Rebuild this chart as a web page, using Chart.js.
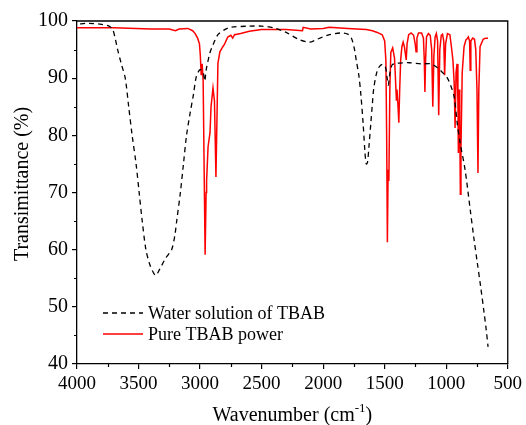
<!DOCTYPE html>
<html>
<head>
<meta charset="utf-8">
<script src="https://cdn.jsdelivr.net/npm/chart.js@4.4.1/dist/chart.umd.min.js"></script>
<style>
html,body{margin:0;padding:0;background:#fff;}
canvas{display:block;}
</style>
</head>
<body>
<canvas id="c" width="526" height="425"></canvas>
<script>
// ---- Data ----
const seriesLabels = ["Water solution of TBAB", "Pure TBAB power"];

const waterWn = [3975,3900,3800,3740,3710,3690,3670,3640,3608,3580,3552,3520,3495,3470,3440,3410,3380,3360,3330,3280,3231,3205,3190,3160,3135,3110,3080,3055,3030,3000,2975,2962,2950,2920,2895,2855,2800,2750,2600,2500,2400,2300,2200,2110,2050,1950,1860,1800,1770,1745,1730,1710,1693,1675,1660,1650,1640,1628,1613,1600,1590,1570,1550,1520,1495,1480,1470,1460,1440,1400,1300,1200,1125,1070,1030,990,960,935,910,887,847,805,775,748,720,693,675,660];
const waterT  = [99.5,99.6,99.4,99.1,98.5,97,95,92.5,90,85,80,75,70,65,60,57.5,56,55.5,56.5,58.5,60,62.5,65,70,75,80,84,87,90.3,91.5,91,89.5,91.5,94.4,95.8,97.6,98.5,98.9,99.1,99.1,98.8,98,96.8,96.3,96.8,97.6,97.9,97.7,97,95,93,90.5,87,82,77,75,75.2,78,82,85.5,88,90.5,91.8,92.4,92,90,88.8,90.5,92.3,92.6,92.7,92.5,92.5,91.8,91,90,88.5,86.7,82,78.7,74,67,62,57.8,53.5,49.1,46,43];

const pureWn = [4000,3700,3400,3250,3200,3170,3100,3060,3040,3020,3005,2998,2991,2983,2975,2959,2951,2947,2935,2919,2911,2895,2883,2871,2855,2839,2815,2800,2775,2750,2735,2720,2670,2600,2500,2300,2168,2162,2100,2000,1950,1800,1650,1600,1560,1520,1500,1490,1484,1478,1472,1466,1458,1450,1435,1420,1413,1405,1400,1393,1385,1378,1370,1360,1350,1340,1325,1318,1305,1285,1265,1252,1245,1238,1225,1200,1185,1178,1173,1168,1160,1145,1130,1118,1109,1100,1090,1080,1070,1061,1052,1040,1030,1020,1013,1005,990,970,955,945,935,928,920,912,905,901,896,890,885,880,870,855,840,830,820,810,805,800,785,770,760,750,742,735,725,700,680,660];
const pureT  = [98.8,98.8,98.6,98.6,98.3,98.6,98.7,98.3,97.8,97,96,94,90.5,92.5,89.5,59.1,70,72,78,80.5,85,88.3,86,72.7,92.6,94.6,95.5,96,97.2,97.5,97,97.6,97.8,98.2,98.5,98.5,98.3,98.9,98.6,98.7,98.9,98.7,98.5,98.3,98,97.6,96.5,93,80,61.3,74,72,88,94.5,95.3,93.5,90.2,86.2,88,85.6,82.2,88,93.2,95.5,96.3,95.5,93.2,96,97.6,97.9,97.5,96,94.6,97,97.9,97.9,97,93,87.6,93,97.2,97.8,97.5,95,85,94,97.2,97.8,96.5,83.5,95,97.5,97.7,96.5,90.5,96,97.8,97.6,95,93,89,81.3,91,92.5,86,76.9,88,82,69.7,78,91,95.5,96.7,96.9,97.2,96.5,91.4,96.5,97,96.8,95,88,73.4,88,95.5,96.8,97,97];

const xTickMin = 500, xTickMax = 4000, xMajor = 500, xMinor = 250;
const yTickMin = 40, yTickMax = 100, yMajor = 10, yMinor = 5;
const xTitle = "Wavenumber (cm", xTitleSup = "-1", xTitleEnd = ")";
const yTitle = "Transimittance (%)";

const toPts = (xs, ys) => xs.map((x, i) => ({x: x, y: ys[i]}));
const FONT = "'Liberation Serif', 'Times New Roman', serif";

const framePlugin = {
  id: 'frame',
  afterDraw(chart) {
    const ctx = chart.ctx, a = chart.chartArea;
    ctx.save();
    ctx.strokeStyle = '#000';
    ctx.lineWidth = 1.3;
    ctx.beginPath();
    ctx.moveTo(a.left, a.top); ctx.lineTo(a.right, a.top); ctx.lineTo(a.right, a.bottom);
    ctx.stroke();
    // short minor ticks
    ctx.lineWidth = 1.2;
    ctx.beginPath();
    const sx = chart.scales.x, sy = chart.scales.y;
    sx.ticks.forEach(t => {
      if (t.value % xMajor !== 0) {
        const px = Math.round(sx.getPixelForValue(t.value)) + 0.5;
        ctx.moveTo(px, a.bottom); ctx.lineTo(px, a.bottom + 3);
      }
    });
    sy.ticks.forEach(t => {
      if (t.value % yMajor !== 0) {
        const py = Math.round(sy.getPixelForValue(t.value)) + 0.5;
        ctx.moveTo(a.left, py); ctx.lineTo(a.left - 3, py);
      }
    });
    ctx.stroke();
    // legend inside plot
    const ds = chart.data.datasets;
    const lx0 = 103, lx1 = 143, tx = 148;
    const rows = [313, 334];
    ctx.font = "18px " + FONT;
    ctx.textBaseline = 'middle';
    ctx.fillStyle = '#000';
    ds.forEach((d, i) => {
      ctx.beginPath();
      ctx.strokeStyle = d.borderColor;
      ctx.lineWidth = d.borderWidth;
      ctx.setLineDash(d.borderDash || []);
      ctx.moveTo(lx0, rows[i]); ctx.lineTo(lx1, rows[i]);
      ctx.stroke();
      ctx.setLineDash([]);
      ctx.fillText(d.label, tx, rows[i] + 1);
    });
    // axis titles
    ctx.textBaseline = 'alphabetic';
    const big = "20px " + FONT, small = "13px " + FONT;
    ctx.font = big;
    const w1 = ctx.measureText(xTitle).width;
    ctx.font = small;
    const w2 = ctx.measureText(xTitleSup).width;
    ctx.font = big;
    const w3 = ctx.measureText(xTitleEnd).width;
    let x = (a.left + a.right) / 2 - (w1 + w2 + w3) / 2;
    const by = 421;
    ctx.fillText(xTitle, x, by); x += w1;
    ctx.font = small;
    ctx.fillText(xTitleSup, x, by - 9); x += w2;
    ctx.font = big;
    ctx.fillText(xTitleEnd, x, by);
    ctx.save();
    ctx.translate(28, 184);
    ctx.rotate(-Math.PI / 2);
    ctx.textAlign = 'center';
    ctx.fillText(yTitle, 0, 0);
    ctx.restore();
    ctx.restore();
  }
};

const majorOnlyColor = (major) => (ctx) => (ctx.tick && ctx.tick.value % major === 0 ? '#000' : 'rgba(0,0,0,0)');

new Chart(document.getElementById('c'), {
  type: 'line',
  data: {
    datasets: [
      { label: seriesLabels[0], data: toPts(waterWn, waterT), borderColor: '#000', borderWidth: 1.3, borderDash: [5, 4], pointRadius: 0, fill: false, tension: 0.3 },
      { label: seriesLabels[1], data: toPts(pureWn, pureT), borderColor: '#ff0000', borderWidth: 1.5, pointRadius: 0, fill: false, tension: 0 }
    ]
  },
  options: {
    responsive: false,
    animation: false,
    layout: { padding: { top: 21, right: 12, left: 0, bottom: 0 } },
    plugins: { legend: { display: false }, tooltip: { enabled: false } },
    scales: {
      x: {
        type: 'linear', reverse: true, min: xTickMin, max: xTickMax,
        afterFit(s) { s.height = 61; },
        border: { display: true, color: '#000', width: 1.3 },
        grid: { display: true, drawOnChartArea: false, drawTicks: true, tickLength: 5, color: majorOnlyColor(xMajor), lineWidth: 1.2 },
        ticks: { stepSize: xMinor, autoSkip: false, maxRotation: 0, padding: 4, color: '#000', font: { family: FONT, size: 19 },
          callback: v => (v % xMajor === 0 ? String(v) : '') }
      },
      y: {
        min: yTickMin, max: yTickMax,
        afterFit(s) { s.width = 77; },
        border: { display: true, color: '#000', width: 1.3 },
        grid: { display: true, drawOnChartArea: false, drawTicks: true, tickLength: 5, color: majorOnlyColor(yMajor), lineWidth: 1.2 },
        ticks: { stepSize: yMinor, autoSkip: false, padding: 4, color: '#000', font: { family: FONT, size: 20 },
          callback: v => (v % yMajor === 0 ? String(v) : '') }
      }
    }
  },
  plugins: [framePlugin]
});
</script>
</body>
</html>
